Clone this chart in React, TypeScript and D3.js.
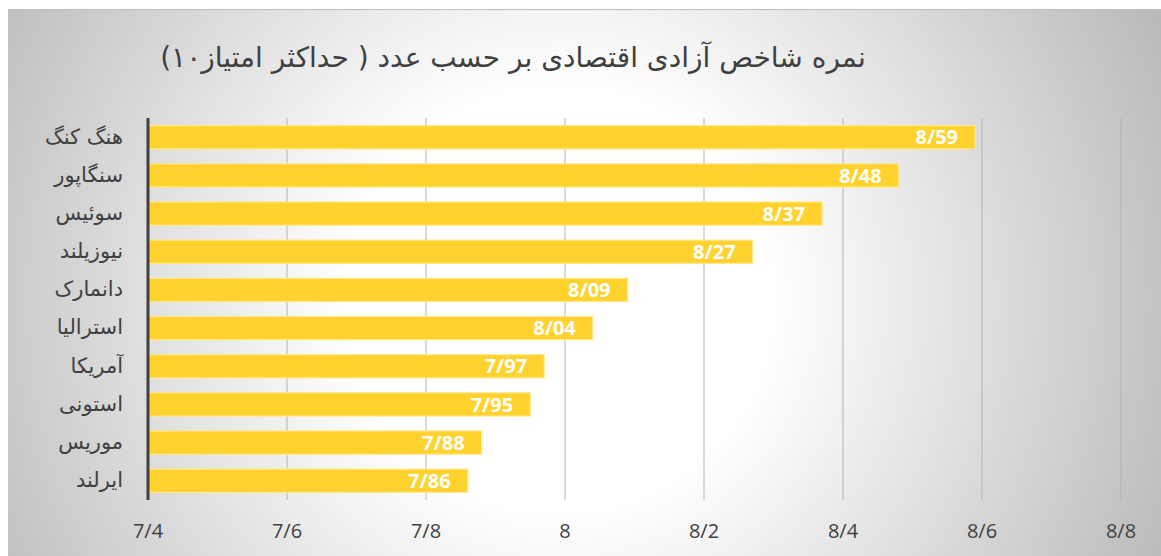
import * as d3 from 'd3';
import React from 'react';

// Economic freedom index scores (max 10)
const countries = [
  'هنگ کنگ',
  'سنگاپور',
  'سوئیس',
  'نیوزیلند',
  'دانمارک',
  'استرالیا',
  'آمریکا',
  'استونی',
  'موریس',
  'ایرلند',
];
const scores = [8.59, 8.48, 8.37, 8.27, 8.09, 8.04, 7.97, 7.95, 7.88, 7.86];
const tickValues = [7.4, 7.6, 7.8, 8, 8.2, 8.4, 8.6, 8.8];
const title = 'نمره شاخص آزادی اقتصادی بر حسب عدد ( حداکثر امتیاز۱۰)';

const W = 1161;
const H = 556;
const plot = { left: 148, right: 1121, top: 118, bottom: 500 };

const slash = (v: number, digits?: number) =>
  (digits === undefined ? String(+v.toFixed(2)) : v.toFixed(digits)).replace('.', '/');

export default function App() {
  const x = d3.scaleLinear().domain([7.4, 8.8]).range([plot.left, plot.right]);
  const y = d3
    .scaleBand()
    .domain(countries)
    .range([plot.top, plot.bottom])
    .paddingInner(0.39)
    .paddingOuter(0.2);

  const persianFont = "'DejaVu Sans', sans-serif";
  const latinFont = "'Open Sans', sans-serif";

  return (
    <svg
      width={W}
      height={H}
      style={{ position: 'absolute', left: 0, top: 0, display: 'block' }}
    >
      <defs>
        <radialGradient
          id="bg"
          gradientUnits="userSpaceOnUse"
          cx={560}
          cy={300}
          r={660}
        >
          <stop offset="0" stopColor="#ffffff" />
          <stop offset="0.32" stopColor="#ffffff" />
          <stop offset="1" stopColor="#bababa" />
        </radialGradient>
      </defs>
      <rect x={0} y={0} width={W} height={H} fill="#ffffff" />
      <rect x={8} y={9} width={W - 8} height={H - 9} fill="url(#bg)" />
      <line x1={8} x2={W} y1={9.5} y2={9.5} stroke="#bdbdbd" strokeWidth={1} />

      <text
        x={513}
        y={67}
        direction="rtl"
        textAnchor="middle"
        fontFamily={persianFont}
        fontSize={28}
        fill="#404040"
      >
        {title}
      </text>

      {/* vertical grid */}
      {tickValues.slice(1).map((t) => (
        <line
          key={t}
          x1={x(t)}
          x2={x(t)}
          y1={plot.top}
          y2={plot.bottom}
          stroke="#b3b3b3"
          strokeWidth={1}
        />
      ))}

      {/* bars */}
      {countries.map((c, i) => (
        <rect
          key={c}
          x={x(7.4)}
          y={y(c)}
          width={x(scores[i]) - x(7.4)}
          height={y.bandwidth()}
          fill="#ffd22e"
          stroke="#ffe98f"
          strokeWidth={1.2}
        />
      ))}

      {/* value labels */}
      {countries.map((c, i) => (
        <text
          key={c}
          x={x(scores[i]) - 17}
          y={(y(c) as number) + y.bandwidth() / 2}
          dy="0.36em"
          textAnchor="end"
          fontFamily={latinFont}
          fontWeight={700}
          fontSize={20}
          fill="#ffffff"
        >
          {slash(scores[i], 2)}
        </text>
      ))}

      {/* category labels */}
      {countries.map((c) => (
        <text
          key={c}
          x={123}
          y={(y(c) as number) + y.bandwidth() / 2}
          dy="0.3em"
          direction="rtl"
          textAnchor="start"
          fontFamily={persianFont}
          fontSize={21}
          fill="#404040"
        >
          {c}
        </text>
      ))}

      {/* axis line */}
      <line
        x1={plot.left}
        x2={plot.left}
        y1={plot.top}
        y2={plot.bottom}
        stroke="#404040"
        strokeWidth={3}
      />

      {/* tick labels */}
      {tickValues.map((t) => (
        <text
          key={t}
          x={x(t)}
          y={538}
          textAnchor="middle"
          fontFamily={latinFont}
          fontSize={20}
          fill="#404040"
        >
          {slash(t)}
        </text>
      ))}
    </svg>
  );
}
